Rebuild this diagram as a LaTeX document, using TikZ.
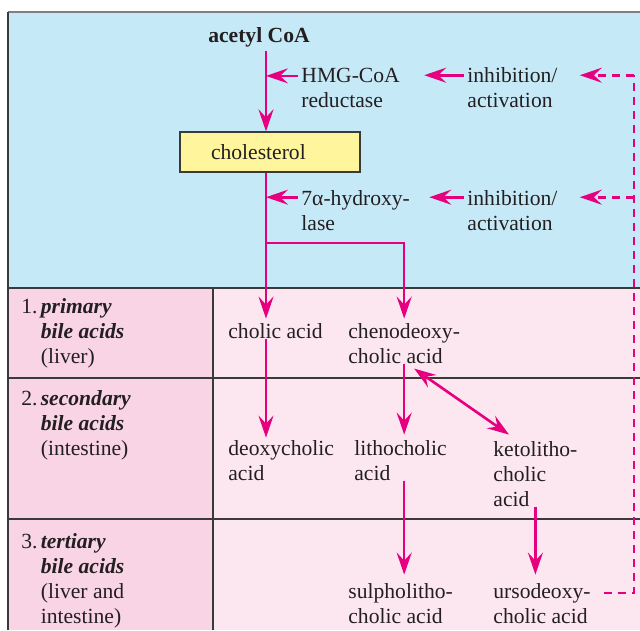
\documentclass[tikz,border=0pt]{standalone}
\usepackage{fontspec}
\setmainfont{Liberation Serif}
\usetikzlibrary{arrows.meta}

\definecolor{skyblue}{RGB}{198,233,248}
\definecolor{rowpink}{RGB}{248,212,228}
\definecolor{cellpink}{RGB}{252,231,240}
\definecolor{cholyellow}{RGB}{255,245,157}
\definecolor{magentaarr}{RGB}{230,0,126}
\definecolor{inkgray}{RGB}{35,31,32}
\definecolor{rulegray}{RGB}{58,58,58}

\begin{document}
\begin{tikzpicture}[x=0.5pt,y=-0.5pt,
  every node/.style={inner sep=0pt, text=inkgray, align=left,
    font=\fontsize{10.8}{12.5}\selectfont},
  lbl/.style={anchor=base west},
  cholbox/.style={draw=rulegray, fill=cholyellow, line width=0.6pt,
    text width=59pt, inner xsep=15.5pt, minimum height=20pt},
  flow/.style={draw=magentaarr, line width=1.3pt},
  arr/.style={flow, -{Stealth[length=11pt,width=7.5pt,inset=4pt]}},
  arrboth/.style={flow, {Stealth[length=11pt,width=7.5pt,inset=4pt]}-{Stealth[length=11pt,width=7.5pt,inset=4pt]}},
  dashflow/.style={flow, dash pattern=on 4pt off 3pt},
  rule/.style={draw=rulegray, line width=1pt}]
\useasboundingbox (0,0) rectangle (640,630);

% panels
\fill[skyblue] (8,12) rectangle (640,288);
\fill[rowpink] (8,288) rectangle (213,630);
\fill[cellpink] (213,288) rectangle (640,630);
\draw[draw=gray, line width=0.8pt] (8,12) -- (640,12);
\draw[rule] (8,12) -- (8,630);
\draw[rule] (8,288) -- (640,288);
\draw[rule] (8,378) -- (640,378);
\draw[rule] (8,519) -- (640,519);
\draw[rule] (213,288) -- (213,630);

% guide coordinates
\coordinate (sp) at (266,0);
\coordinate (fork) at (266,243);
\coordinate (d0) at (634,593);

% synthesis part (base = last line)
\node[anchor=base, font=\fontsize{10.8}{12.5}\selectfont\bfseries] (acetyl) at (259,43) {acetyl CoA};
\node[cholbox] (chol) at (270,152) {cholesterol};
\node[lbl] (hmg) at (301,108) {HMG-CoA\\reductase};
\node[lbl] (hydrox) at (301,230) {7α-hydroxy-\\lase};
\node[lbl] (inh1) at (467,108) {inhibition/\\activation};
\node[lbl] (inh2) at (467,230) {inhibition/\\activation};
\coordinate (h1) at ([yshift=-3.8pt]hmg.north west);
\coordinate (h2) at ([yshift=-3.8pt]hydrox.north west);
\coordinate (i1) at ([yshift=-3.8pt]inh1.north west);
\coordinate (i2) at ([yshift=-3.8pt]inh2.north west);

% bile acid table
\node[lbl] (row1) at (21,363) {1.\hspace{0.15em}\textbf{\textit{primary}}\\\phantom{1.\hspace{0.15em}}\textbf{\textit{bile acids}}\\\phantom{1.\hspace{0.15em}}(liver)};
\node[lbl] (row2) at (21,455) {2.\hspace{0.15em}\textbf{\textit{secondary}}\\\phantom{2.\hspace{0.15em}}\textbf{\textit{bile acids}}\\\phantom{2.\hspace{0.15em}}(intestine)};
\node[lbl] (row3) at (21,623) {3.\hspace{0.15em}\textbf{\textit{tertiary}}\\\phantom{3.\hspace{0.15em}}\textbf{\textit{bile acids}}\\\phantom{3.\hspace{0.15em}}(liver and\\\phantom{3.\hspace{0.15em}}intestine)};

\node[lbl] (cholic) at (228,338) {cholic acid};
\node[lbl] (cheno) at (348,363) {chenodeoxy-\\cholic acid};
\node[lbl] (deoxy) at (228,480) {deoxycholic\\acid};
\node[lbl] (litho) at (354,480) {lithocholic\\acid};
\node[lbl] (keto) at (493,506) {ketolitho-\\cholic\\acid};
\node[lbl] (sulpho) at (348,623) {sulpholitho-\\cholic acid};
\node[lbl] (urso) at (493,623) {ursodeoxy-\\cholic acid};

% connectors
\draw[arr, shorten <=1.5pt] (acetyl.south -| sp) -- (chol.north -| sp);
\draw[arr] ([xshift=-1.5pt]h1) -- (h1 -| sp);
\draw[arr] ([xshift=-1.5pt]h2) -- (h2 -| sp);
\draw[arr, shorten >=12pt] ([xshift=-1.5pt]i1) -- (i1 -| hmg.east);
\draw[arr, shorten >=9.5pt] ([xshift=-1.5pt]i2) -- (i2 -| hydrox.east);
\draw[flow] (chol.south -| sp) -- (fork);
\draw[arr, shorten >=2pt] (fork) -- (cholic.north -| sp);
\draw[arr, shorten >=2pt] (fork) -| (cheno.north);
\draw[arr, shorten >=1pt] (cholic.south -| sp) -- (deoxy.north -| sp);
\draw[arr, shorten >=2.5pt] (cheno.south) -- (litho.north -| cheno.south);
\draw[arrboth] ([xshift=5pt,yshift=-2.5pt]cheno.south) -- ([xshift=8pt,yshift=3pt]keto.north west);
\draw[arr, shorten >=4pt] (litho.south -| cheno.south) -- (sulpho.north -| cheno.south);
\draw[arr, shorten >=4pt] (keto.south) -- (urso.north -| keto.south);

% feedback loop
\draw[dashflow] ([xshift=6.5pt]urso.east |- d0) -- (d0) -- (d0 |- i1);
\draw[dashflow, -{Stealth[length=11pt,width=7.5pt,inset=4pt]}, shorten >=11pt] (d0 |- i1) -- (i1 -| inh1.east);
\draw[dashflow, -{Stealth[length=11pt,width=7.5pt,inset=4pt]}, shorten >=11pt] (d0 |- i2) -- (i2 -| inh2.east);
\end{tikzpicture}
\end{document}
